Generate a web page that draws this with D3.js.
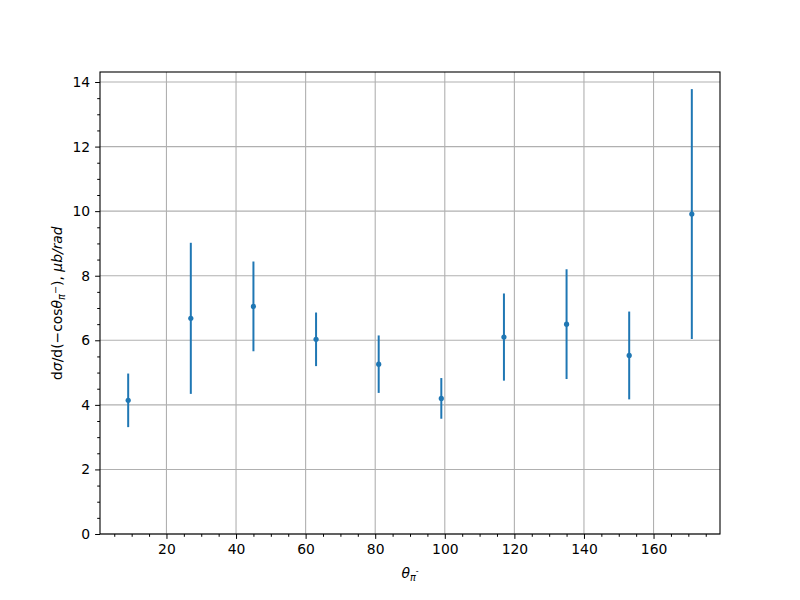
<!DOCTYPE html>
<html><head><meta charset="utf-8">
<script src="https://cdn.jsdelivr.net/npm/d3@7"></script>
<style>body{margin:0;background:#fff}svg{display:block}text{font-family:"DejaVu Sans",sans-serif}</style>
</head><body>
<script>
const angles = [9, 27, 45, 63, 81, 99, 117, 135, 153, 171];
const values = [4.14, 6.68, 7.05, 6.03, 5.26, 4.20, 6.10, 6.50, 5.53, 9.91];
const errors = [0.83, 2.34, 1.39, 0.83, 0.89, 0.63, 1.35, 1.70, 1.36, 3.87];
const xTicks = [20, 40, 60, 80, 100, 120, 140, 160];
const yTicks = [0, 2, 4, 6, 8, 10, 12, 14];

const W = 800, H = 600;
const m = {l: 100, r: 80, t: 72, b: 66};
const svg = d3.select("body").append("svg").attr("width", W).attr("height", H);
const x = d3.scaleLinear().domain([0.9, 179.1]).range([m.l, W - m.r]);
const y = d3.scaleLinear().domain([0, 14.31]).range([H - m.b, m.t]);
const g = svg.append("g");

// grid
g.selectAll(".gx").data(xTicks).join("line")
  .attr("x1", d => x(d)).attr("x2", d => x(d)).attr("y1", m.t).attr("y2", H - m.b)
  .attr("stroke", "#b0b0b0").attr("stroke-width", 1.1);
g.selectAll(".gy").data(yTicks).join("line")
  .attr("y1", d => y(d)).attr("y2", d => y(d)).attr("x1", m.l).attr("x2", W - m.r)
  .attr("stroke", "#b0b0b0").attr("stroke-width", 1.1);

// error bars
g.selectAll(".eb").data(angles).join("line")
  .attr("x1", d => x(d)).attr("x2", d => x(d))
  .attr("y1", (d, i) => y(values[i] - errors[i])).attr("y2", (d, i) => y(values[i] + errors[i]))
  .attr("stroke", "#1f77b4").attr("stroke-width", 2);
g.selectAll(".pt").data(angles).join("circle")
  .attr("cx", d => x(d)).attr("cy", (d, i) => y(values[i])).attr("r", 2.6)
  .attr("fill", "#1f77b4");

// axes
const xMinor = d3.range(5, 180, 5).filter(v => v % 20 !== 0);
const yMinor = d3.range(0.5, 14.3, 0.5).filter(v => v % 2 !== 0);
const xa = svg.append("g").attr("transform", `translate(0,${H - m.b})`)
  .call(d3.axisBottom(x).tickValues(xTicks).tickSize(4.9).tickPadding(4.9).tickFormat(d3.format("d")));
const xm = svg.append("g").attr("transform", `translate(0,${H - m.b})`)
  .call(d3.axisBottom(x).tickValues(xMinor).tickSize(2.8).tickFormat(""));
const ya = svg.append("g").attr("transform", `translate(${m.l},0)`)
  .call(d3.axisLeft(y).tickValues(yTicks).tickSize(4.9).tickPadding(4.9).tickFormat(d3.format("d")));
const ym = svg.append("g").attr("transform", `translate(${m.l},0)`)
  .call(d3.axisLeft(y).tickValues(yMinor).tickSize(2.8).tickFormat(""));
[xa, xm, ya, ym].forEach(a => {
  a.select(".domain").remove();
  a.selectAll("line").attr("stroke", "#000").attr("stroke-width", 1);
  a.selectAll("text").attr("font-size", 13.9).attr("fill", "#000").style("font-family", "DejaVu Sans");
});
svg.append("rect").attr("x", m.l).attr("y", m.t).attr("width", W - m.l - m.r).attr("height", H - m.t - m.b)
  .attr("fill", "none").attr("stroke", "#000").attr("stroke-width", 1.1);

// labels
const xl = svg.append("text").attr("x", x(90)).attr("y", 578).attr("text-anchor", "middle").attr("font-size", 13.9);
xl.append("tspan").attr("font-style", "italic").text("θ");
xl.append("tspan").attr("font-style", "italic").attr("font-size", 9.7).attr("dy", 3).text("π");
xl.append("tspan").attr("font-size", 8).attr("dy", -7).text("-");

const yl = svg.append("text").attr("transform", `translate(62,${y(7.15)}) rotate(-90)`)
  .attr("text-anchor", "middle").attr("font-size", 13.9);
yl.append("tspan").text("d");
yl.append("tspan").attr("font-style", "italic").text("σ");
yl.append("tspan").text("/d(−cos");
yl.append("tspan").attr("font-style", "italic").text("θ");
yl.append("tspan").attr("font-style", "italic").attr("font-size", 9.7).attr("dy", 3).text("π");
yl.append("tspan").attr("font-size", 9.7).attr("dy", -6).text("−");
yl.append("tspan").attr("dy", 3).text("), ");
yl.append("tspan").attr("font-style", "italic").text("μb/rad");
</script>
</body></html>
